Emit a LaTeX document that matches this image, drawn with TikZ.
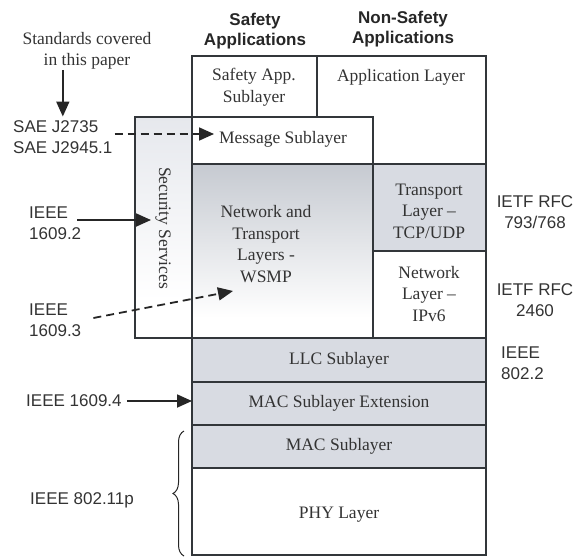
\documentclass[tikz,border=0pt]{standalone}
\usepackage{fontspec}
\setmainfont{Liberation Serif}
\setsansfont{Liberation Sans}
\usetikzlibrary{arrows.meta,decorations.pathreplacing,positioning}
\definecolor{layerGray}{RGB}{216,219,226}
\definecolor{secGray}{RGB}{230,232,237}
\definecolor{wsmpGray}{RGB}{198,202,209}
\definecolor{edgeGray}{RGB}{50,54,58}

\tikzset{
  box/.style={draw=edgeGray, line width=1.6pt},
  lbl/.style={font=\fontsize{17.5}{21.5}\selectfont, align=center, inner sep=0pt, text=black!80},
  std/.style={font=\sffamily\fontsize{17}{20.5}\selectfont, align=left, inner sep=0pt, text=black!80},
  head/.style={font=\sffamily\bfseries\fontsize{17}{20.5}\selectfont, align=center, inner sep=0pt, text=black!85},
  arr/.style={-{Triangle[length=15pt,width=13pt]}, line width=1.8pt, black!85},
}

\begin{document}
\begin{tikzpicture}[x=1pt, y=-1pt]
\useasboundingbox (0,0) rectangle (585,556);

% Application boxes on top
\draw[box] (317,56) rectangle (486,164);
\draw[box] (192,56) rectangle (317,117);

% Security services column
\fill[white] (135,117) rectangle (192,338);
\shade[top color=secGray, bottom color=white] (135,117) rectangle (192,300);
\draw[box] (135,117) rectangle (192,338);

% Message sublayer
\draw[box, fill=white] (192,117) rectangle (373,164);

% Network and transport layers (WSMP)
\fill[white] (192,164) rectangle (373,338);
\shade[top color=wsmpGray, bottom color=white] (192,164) rectangle (373,318);
\draw[box] (192,164) rectangle (373,338);

% Non-safety transport and network layers
\draw[box, fill=layerGray] (373,164) rectangle (486,251);
\draw[box, fill=white] (373,251) rectangle (486,338);

% Lower stack (LLC, MAC ext., MAC, PHY)
\foreach \ya/\yb/\col in {338/382/layerGray, 382/425/layerGray, 425/468/layerGray, 468/555/white}
  \draw[box, fill=\col] (192,\ya) rectangle (486,\yb);

% Column headers
\node[head] (safetyHead) at (255,31) {Safety\\Applications};
\node[head] (nonSafetyHead) at (403,29) {Non-Safety\\Applications};

% Layer labels
\node[lbl] (safetyApp) at (254,87) {Safety App.\\Sublayer};
\node[lbl] (appLayer) at (401,77) {Application Layer};
\node[lbl] (msgSub) at (283,139) {Message Sublayer};
\node[lbl, rotate=-90] (secServ) at (163,228) {Security Services};
\node[lbl] (wsmp) at (266,244) {Network and\\Transport\\Layers -\\WSMP};
\node[lbl] (tcpUdp) at (429,211) {Transport\\Layer –\\TCP/UDP};
\node[lbl] (ipv6) at (429,294) {Network\\Layer –\\IPv6};
\node[lbl] (llc) at (339,360) {LLC Sublayer};
\node[lbl] (macExt) at (339,403) {MAC Sublayer Extension};
\node[lbl] (mac) at (339,446) {MAC Sublayer};
\node[lbl] (phy) at (339,515) {PHY Layer};

% Standards on the left
\node[lbl] (stdNote) at (87,51) {Standards covered\\in this paper};
\node[std, anchor=west] (saeStd) at (13,137) {SAE J2735\\SAE J2945.1};
\node[std, anchor=west] (ieeeSec) at (29,223) {IEEE\\1609.2};
\node[std, anchor=west] (ieeeNet) at (29,320) {IEEE\\1609.3};
\node[std, anchor=west] (ieeeMac) at (26,401) {IEEE 1609.4};
\node[std, anchor=west] (ieeePhy) at (30,500) {IEEE 802.11p};

% Standards on the right
\node[std, align=center] (rfcTcp) at (535,212) {IETF RFC\\793/768};
\node[std, align=center] (rfcIp) at (535,300) {IETF RFC\\2460};
\node[std, anchor=west] (ieeeLlc) at (501,363) {IEEE\\802.2};

% Arrow targets
\coordinate (msgIn) at (214,134);
\coordinate (secIn) at (151,220);
\coordinate (wsmpIn) at (233,291);
\coordinate (macIn) at (192,401);

% Arrows
\draw[arr] (saeStd.north |- stdNote.south) -- ([yshift=4pt]saeStd.north);
\draw[arr, dash pattern=on 8pt off 5pt] ([xshift=2pt]saeStd.east |- msgIn) -- (msgIn);
\draw[arr] ([xshift=-4pt]ieeeSec.east |- secIn) -- (secIn);
\draw[arr, dash pattern=on 8pt off 5pt] ([xshift=12pt,yshift=2pt]ieeeNet.east) -- (wsmpIn);
\draw[arr] ([xshift=5pt]ieeeMac.east) -- (macIn);

% Brace for 802.11p
\draw[decorate, decoration={brace, amplitude=11pt}, line width=1pt, black!85] (184,556) -- (184,431);

\end{tikzpicture}
\end{document}
